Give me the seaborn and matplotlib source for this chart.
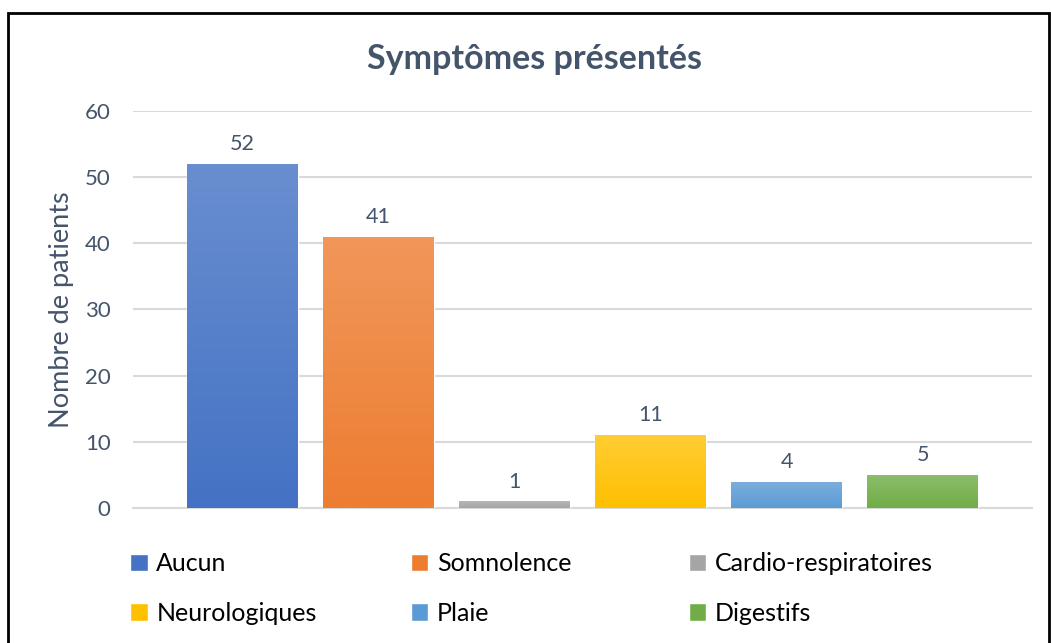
import numpy as np
import pandas as pd
import seaborn as sns
import matplotlib.pyplot as plt
from matplotlib.colors import to_rgb
from matplotlib.patches import Patch, Rectangle

# ==========================================
# DATA
# ==========================================
categories = ['Aucun', 'Somnolence', 'Cardio-respiratoires', 'Neurologiques', 'Plaie', 'Digestifs']
patients = [52, 41, 1, 11, 4, 5]
colors = ['#4472C4', '#ED7D31', '#A5A5A5', '#FFC000', '#5B9BD5', '#70AD47']

title = 'Symptômes présentés'
ylabel = 'Nombre de patients'

# ==========================================
# SETUP & THEMING
# ==========================================
sns.set_theme(style="white")
plt.rcParams['font.family'] = ['Lato', 'DejaVu Sans']
text_col = '#44546A'
grid_col = '#D9D9D9'

df = pd.DataFrame({'symptome': categories, 'patients': patients})

fig = plt.figure(figsize=(10.51, 6.43), dpi=100)
ax = fig.add_axes([0.1265, 0.2100, 0.8555, 0.6174])

sns.barplot(data=df, x='symptome', y='patients', hue='symptome',
            palette=colors, width=0.816, legend=False, ax=ax, zorder=3)

# gradient fill: lighter at top, base color at the bottom
for patch, c in zip(ax.patches, colors):
    base = np.array(to_rgb(c))
    top = base + (1 - base) * 0.2
    grad = np.linspace(0, 1, 100)[:, None, None]
    img = top * (1 - grad) + base * grad
    x0, y0 = patch.get_x(), patch.get_y()
    w, h = patch.get_width(), patch.get_height()
    im = ax.imshow(img, extent=[x0, x0 + w, y0, y0 + h], aspect='auto',
                   zorder=4, interpolation='bilinear')
    im.set_clip_path(patch)

for cont in ax.containers:
    ax.bar_label(cont, padding=7, fontsize=15.5, color=text_col, zorder=5)

ax.set_xlim(-0.805, len(categories) - 0.195)
ax.set_ylim(0, 60)
ax.set_yticks(range(0, 61, 10))
ax.yaxis.grid(True, color=grid_col, linewidth=1.5, zorder=0)
ax.set_axisbelow(True)
for s in ['left', 'right', 'top']:
    ax.spines[s].set_visible(False)
ax.spines['bottom'].set_color(grid_col)
ax.spines['bottom'].set_linewidth(1.5)
ax.set_xticks([])
ax.set_xlabel('')
ax.tick_params(axis='y', length=0, labelsize=16, labelcolor=text_col, pad=16)
ax.set_ylabel(ylabel, fontsize=19.5, color=text_col, labelpad=8)

fig.text(0.509, 0.909, title, ha='center', va='center', fontsize=24.5,
         fontweight='bold', color=text_col)

# legend: 3 evenly spaced columns, filled row by row like the original
handles = [Patch(facecolor=c) for c in colors]
col_x = [0.1023, 0.3695, 0.6340]
for j, x in enumerate(col_x):
    idx = [j, j + 3]
    leg = fig.legend([handles[i] for i in idx], [categories[i] for i in idx],
                     loc='upper left', bbox_to_anchor=(x, 0.176),
                     frameon=False, fontsize=18, handlelength=0.7, handleheight=0.7,
                     handletextpad=0.35, labelspacing=1.05, labelcolor='black')

# chart border
fig.patches.append(Rectangle((0.008, -0.01), 0.990, 0.99, transform=fig.transFigure,
                             fill=False, edgecolor='black', linewidth=2))

fig.savefig('out.png', dpi=100)
